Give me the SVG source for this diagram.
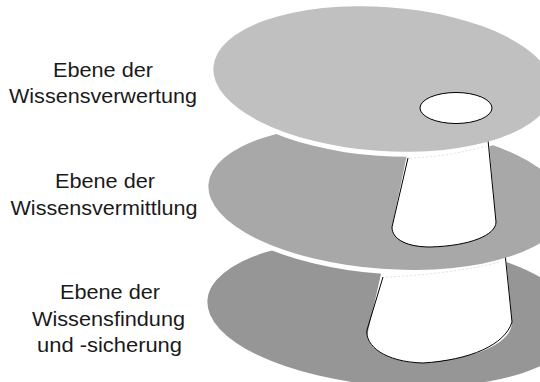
<svg xmlns="http://www.w3.org/2000/svg" width="540" height="382" viewBox="0 0 540 382">
  <style>
    .label { font-family: "Liberation Sans", Arial, sans-serif; font-size: 19.5px; fill: #1a1a1a; text-anchor: middle; }
    .rim { fill: #ffffff; }
    .shaft { fill: #ffffff; stroke: none; }
    .shaft-edge { fill: none; stroke: #000000; stroke-width: 1; stroke-linejoin: round; }
    .seam { fill: none; stroke: #d8d8d8; stroke-width: 0.8; stroke-dasharray: 2 2; }
  </style>

  <rect width="540" height="382" fill="#ffffff"/>

  <!-- Level 3: bottom disc -->
  <g id="level-findung">
    <ellipse cx="393" cy="313" rx="186" ry="73" transform="rotate(4 393 313)" fill="#969696"/>
  </g>

  <!-- rim under middle disc and lower shaft -->
  <g id="connectors">
    <ellipse class="rim" cx="387" cy="202" rx="179" ry="72" transform="rotate(4 387 202)"/>
    <path class="shaft" d="M385,265 L505,245 L512,322 C512,342 480,358 423,363 C395,363 370,352 367,336 L383,265 Z"/>
    <path class="shaft-edge" d="M383,277 L367,330 C365,346 385,362 423,363 C470,360 505,345 512,322 L505,253"/>
    <path class="seam" d="M386,277 C420,276 470,270 500,262"/>
  </g>

  <!-- Level 2: middle disc -->
  <g id="level-vermittlung">
    <ellipse cx="387" cy="197" rx="179" ry="72" transform="rotate(4 387 197)" fill="#a8a8a8"/>
  </g>

  <!-- rim under top disc and upper shaft -->
  <g id="connectors-upper">
    <ellipse class="rim" cx="383" cy="84" rx="170" ry="72" transform="rotate(4 383 84)"/>
    <path class="shaft" d="M410,140 L488,130 L496,222 C496,235 470,246 430,247 C405,246 392,238 392,227 L410,140 Z"/>
    <path class="shaft-edge" d="M408,158 L392,227 C392,240 408,247 430,247 C470,246 496,235 496,222 L488,140"/>
    <path class="seam" d="M410,158 C440,157 465,152 486,146"/>
  </g>

  <!-- Level 1: top disc with opening -->
  <g id="level-verwertung">
    <ellipse cx="383" cy="79" rx="170" ry="72" transform="rotate(4 383 79)" fill="#c0c0c0"/>
    <ellipse cx="456" cy="108" rx="36" ry="15.5" fill="#ffffff" stroke="#000000" stroke-width="1"/>
  </g>

  <!-- level labels -->
  <g id="label-verwertung">
    <text class="label" x="103" y="77" textLength="100" lengthAdjust="spacingAndGlyphs">Ebene der</text>
    <text class="label" x="103" y="103" textLength="188" lengthAdjust="spacingAndGlyphs">Wissensverwertung</text>
  </g>
  <g id="label-vermittlung">
    <text class="label" x="105" y="188" textLength="100" lengthAdjust="spacingAndGlyphs">Ebene der</text>
    <text class="label" x="104" y="215" textLength="187" lengthAdjust="spacingAndGlyphs">Wissensvermittlung</text>
  </g>
  <g id="label-findung">
    <text class="label" x="110" y="299" textLength="100" lengthAdjust="spacingAndGlyphs">Ebene der</text>
    <text class="label" x="108.5" y="326" textLength="153" lengthAdjust="spacingAndGlyphs">Wissensfindung</text>
    <text class="label" x="109.5" y="352" textLength="145" lengthAdjust="spacingAndGlyphs">und -sicherung</text>
  </g>
</svg>
